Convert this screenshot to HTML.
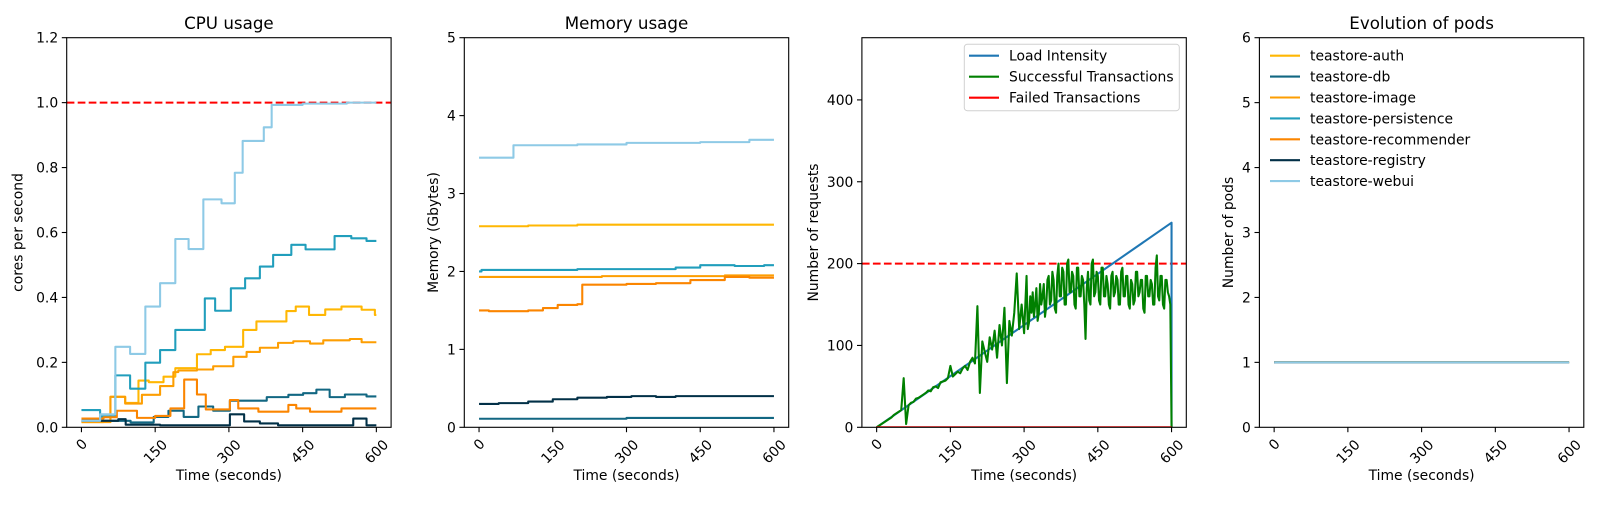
<!DOCTYPE html>
<html><head><meta charset="utf-8">
<style>
html,body{margin:0;padding:0;background:#fff;}
svg text{font-family:"DejaVu Sans","Liberation Sans",sans-serif;fill:#000;}
</style></head>
<body>
<svg id="fig" width="1600" height="500" viewBox="0 0 1600 500" xmlns="http://www.w3.org/2000/svg"></svg>
<script>
// ---- data ----
const seriesNames = ["teastore-auth","teastore-db","teastore-image","teastore-persistence","teastore-recommender","teastore-registry","teastore-webui"];
const seriesColors = ["#ffb703","#126782","#fd9e02","#219ebc","#fb8500","#023047","#8ecae6"];
const cpuAuthT = [0,45,59,89,116,137,167,191,235,263,292,329,356,417,436,463,496,529,570,597];
const cpuAuthV = [0.016,0.02,0.094,0.075,0.144,0.139,0.156,0.182,0.225,0.238,0.248,0.3,0.326,0.358,0.372,0.346,0.363,0.372,0.362,0.346];
const cpuDbT = [0,100,147,177,208,238,268,302,377,421,451,478,505,536,580];
const cpuDbV = [0.02,0.015,0.032,0.051,0.032,0.064,0.051,0.082,0.093,0.1,0.105,0.116,0.093,0.101,0.095];
const cpuImageT = [0,59,89,123,160,187,197,235,268,309,336,363,400,431,465,492,546,570];
const cpuImageV = [0.016,0.094,0.073,0.1,0.127,0.17,0.175,0.178,0.188,0.217,0.232,0.245,0.26,0.265,0.258,0.268,0.272,0.262];
const cpuPersT = [0,38,69,99,130,160,191,251,272,304,333,363,390,427,456,515,549,580];
const cpuPersV = [0.053,0.033,0.16,0.119,0.199,0.238,0.3,0.397,0.359,0.428,0.459,0.495,0.531,0.562,0.548,0.589,0.582,0.574];
const cpuRecT = [0,45,72,113,150,181,209,235,253,302,319,360,421,437,465,529];
const cpuRecV = [0.027,0.031,0.051,0.029,0.035,0.058,0.147,0.101,0.055,0.084,0.058,0.048,0.069,0.058,0.048,0.058];
const cpuRegT = [0,75,90,160,302,331,363,400,553,580];
const cpuRegV = [0.02,0.025,0.008,0.006,0.04,0.018,0.012,0.006,0.027,0.006];
const cpuWebT = [0,38,69,99,130,160,191,218,248,285,312,328,371,387,450,540];
const cpuWebV = [0.02,0.04,0.248,0.226,0.372,0.444,0.58,0.549,0.702,0.69,0.784,0.882,0.924,0.993,0.997,1.0];
const memAuthT = [0,100,200]; const memAuthV = [2.58,2.59,2.60];
const memDbT = [0,300]; const memDbV = [0.11,0.12];
const memImageT = [0,250,500]; const memImageV = [1.93,1.94,1.95];
const memPersT = [0,5,200,400,450,520,580]; const memPersV = [2.0,2.02,2.03,2.05,2.08,2.07,2.08];
const memRecT = [0,20,100,130,160,200,210,300,360,430,500,550]; const memRecV = [1.5,1.49,1.5,1.53,1.57,1.58,1.83,1.84,1.85,1.89,1.93,1.92];
const memRegT = [0,40,100,150,200,260,310,360,400]; const memRegV = [0.3,0.31,0.33,0.36,0.38,0.39,0.4,0.39,0.4];
const memWebT = [0,70,200,300,450,550]; const memWebV = [3.46,3.62,3.63,3.65,3.66,3.69];
const loadT = [0,600,600]; const loadV = [0,250,0];
const failT = [0,600]; const failV = [0,0];
// successful transactions: 0..300 every 5 s, then 302.5..600 every 2.5 s
const succA = [0,2,4,6,8,10,12,15,17,19,21,60,4,27,30,31,35,36,38,40,42,45,44,49,50,48,55,56,57,60,75,62,65,68,66,72,75,70,80,85,78,148,42,105,92,80,110,95,118,85,125,100,146,54,130,112,140,188,120,150,115];
const succB = [150,185,120,128,160,140,165,135,150,170,130,140,175,150,160,175,135,148,180,185,150,155,190,180,145,140,185,200,160,160,195,190,150,150,200,205,165,165,190,185,150,145,195,195,160,160,185,180,150,108,170,190,155,150,200,205,160,165,190,185,155,150,195,195,160,160,185,175,150,145,185,190,160,165,185,180,150,150,190,195,160,160,185,185,150,145,180,175,150,155,190,190,160,165,180,180,145,140,185,185,160,160,180,175,150,150,195,210,160,155,185,185,150,145,180,180,165,160,150,0];
const podT = [0,600]; const podV = [1,1];
const xTicks = [0,150,300,450,600];

const svg = document.getElementById('fig');
const NS = 'http://www.w3.org/2000/svg';
const LEFTS = [66.7,464.3,861.9,1259.4], W = 324.4, T = 37.7, H = 389.6;
function mk(tag, attrs, parent){const e=document.createElementNS(NS,tag);for(const k in attrs)e.setAttribute(k,attrs[k]);(parent||svg).appendChild(e);return e;}
function makeAxes(i, ymax, yticks, fmt, ylabel, title){
  const L=LEFTS[i];
  const g=mk('g',{});
  
  
  const xs=t=>L+(t+30)/660*W, ys=v=>T+H-v/ymax*H;
  return {g,xs,ys,L,ymax,yticks,fmt,ylabel,title};
}
function finishAxes(a){
  const {g,xs,ys,L}=a;
  const fr=mk('rect',{x:L,y:T,width:W,height:H,fill:'none',stroke:'#000','stroke-width':1.1},g);
  
  
  let maxw=0;
  a.yticks.forEach(v=>{
    const y=ys(v);
    mk('line',{x1:L-4.9,x2:L,y1:y,y2:y,stroke:'#000','stroke-width':1.1},g);
    const s=a.fmt(v); maxw=Math.max(maxw,s.length*8.85);
    const t=mk('text',{x:L-8.5,y:y+5,'text-anchor':'end','font-size':13.9},g);
    t.textContent=s;
    
    
  });
  xTicks.forEach(v=>{
    const x=xs(v);
    mk('line',{x1:x,x2:x,y1:T+H,y2:T+H+4.9,stroke:'#000','stroke-width':1.1},g);
    const cy=T+H+9.8+String(v).length*3.6+3.5;
    const t=mk('text',{x:x,y:cy+5,'text-anchor':'middle','font-size':13.9,transform:`rotate(-45 ${x} ${cy})`},g);
    t.textContent=String(v);
    
    
  });
  const xl=mk('text',{x:L+W/2,y:480,'text-anchor':'middle','font-size':13.9},g);
  xl.textContent='Time (seconds)';
  
  
  const yx=L-8.5-maxw-9;
  const yl=mk('text',{x:yx,y:T+H/2,'text-anchor':'middle','font-size':13.9,transform:`rotate(-90 ${yx} ${T+H/2})`},g);
  yl.textContent=a.ylabel;
  
  
  if(a.title){
    const ti=mk('text',{x:L+W/2,y:29,'text-anchor':'middle','font-size':16.7},g);
    ti.textContent=a.title;
    
    
  }
}
function clip(a,id){
  const cp=mk('clipPath',{id:id},a.g); mk('rect',{x:a.L,y:T,width:W,height:H},cp);
  return mk('g',{'clip-path':`url(#${id})`},a.g);
}
function stepPath(a,ts,vs,tEnd){
  let d=`M${a.xs(ts[0])},${a.ys(vs[0])}`;
  for(let k=1;k<ts.length;k++){d+=` H${a.xs(ts[k])} V${a.ys(vs[k])}`;}
  d+=` H${a.xs(tEnd)}`; return d;
}
function linePath(a,ts,vs){return ts.map((t,k)=>(k?'L':'M')+a.xs(t)+','+a.ys(vs[k])).join(' ');}
function hline(a,cg,v,name){
  const l=mk('line',{x1:a.L,x2:a.L+W,y1:a.ys(v),y2:a.ys(v),stroke:'#ff0000','stroke-width':2.08,'stroke-dasharray':'7.7 3.3'},cg);
  
  
}
function addPath(cg,d,color,name){
  const p=mk('path',{d:d,fill:'none',stroke:color,'stroke-width':2.08,'stroke-linejoin':'round'},cg);
  
  
}

const a1=makeAxes(0,1.2,[0,0.2,0.4,0.6,0.8,1.0,1.2],v=>v.toFixed(1),'cores per second','CPU usage');
const c1=clip(a1,'c1');
hline(a1,c1,1.0,'cpu-limit-line');
const cpuT=[cpuAuthT,cpuDbT,cpuImageT,cpuPersT,cpuRecT,cpuRegT,cpuWebT];
const cpuV=[cpuAuthV,cpuDbV,cpuImageV,cpuPersV,cpuRecV,cpuRegV,cpuWebV];
cpuT.forEach((ts,k)=>addPath(c1,stepPath(a1,ts,cpuV[k],600),seriesColors[k],'cpu-'+seriesNames[k]));
finishAxes(a1);

const a2=makeAxes(1,5,[0,1,2,3,4,5],v=>String(v),'Memory (Gbytes)','Memory usage');
const c2=clip(a2,'c2');
const memT=[memAuthT,memDbT,memImageT,memPersT,memRecT,memRegT,memWebT];
const memV=[memAuthV,memDbV,memImageV,memPersV,memRecV,memRegV,memWebV];
memT.forEach((ts,k)=>addPath(c2,stepPath(a2,ts,memV[k],600),seriesColors[k],'memory-'+seriesNames[k]));
finishAxes(a2);

const a3=makeAxes(2,476,[0,100,200,300,400],v=>String(v),'Number of requests',null);
const c3=clip(a3,'c3');
hline(a3,c3,200,'request-limit-line');
addPath(c3,linePath(a3,loadT,loadV),'#1f77b4','load-intensity-line');
const succV=succA.concat(succB);
const succT=succA.map((v,k)=>k*5).concat(succB.map((v,k)=>302.5+k*2.5));
addPath(c3,linePath(a3,succT,succV),'#008000','successful-transactions-line');
addPath(c3,linePath(a3,failT,failV),'#ff0000','failed-transactions-line');
finishAxes(a3);
(function(){
  const lg=mk('g',{},a3.g);
  
  
  mk('rect',{x:964.3,y:44.3,width:215,height:66.4,rx:3,fill:'#fff','fill-opacity':0.8,stroke:'#d0d0d0','stroke-width':1},lg);
  const items=[['Load Intensity','#1f77b4'],['Successful Transactions','#008000'],['Failed Transactions','#ff0000']];
  items.forEach((it,k)=>{
    const y=55.7+k*21;
    const e=mk('g',{},lg);
    
    
    mk('line',{x1:969,x2:999,y1:y,y2:y,stroke:it[1],'stroke-width':2.08},e);
    const t=mk('text',{x:1009,y:y+5,'font-size':13.9},e); t.textContent=it[0];
  });
})();

const a4=makeAxes(3,6,[0,1,2,3,4,5,6],v=>String(v),'Number of pods','Evolution of pods');
const c4=clip(a4,'c4');
seriesNames.forEach((n,k)=>addPath(c4,linePath(a4,podT,podV),seriesColors[k],'pods-'+n));
finishAxes(a4);
(function(){
  const lg=mk('g',{},a4.g);
  
  
  seriesNames.forEach((n,k)=>{
    const y=55.7+k*20.9;
    const e=mk('g',{},lg);
    
    
    mk('line',{x1:1270,x2:1300,y1:y,y2:y,stroke:seriesColors[k],'stroke-width':2.08},e);
    const t=mk('text',{x:1310,y:y+5,'font-size':13.9},e); t.textContent=n;
  });
})();
</script>
</body></html>
